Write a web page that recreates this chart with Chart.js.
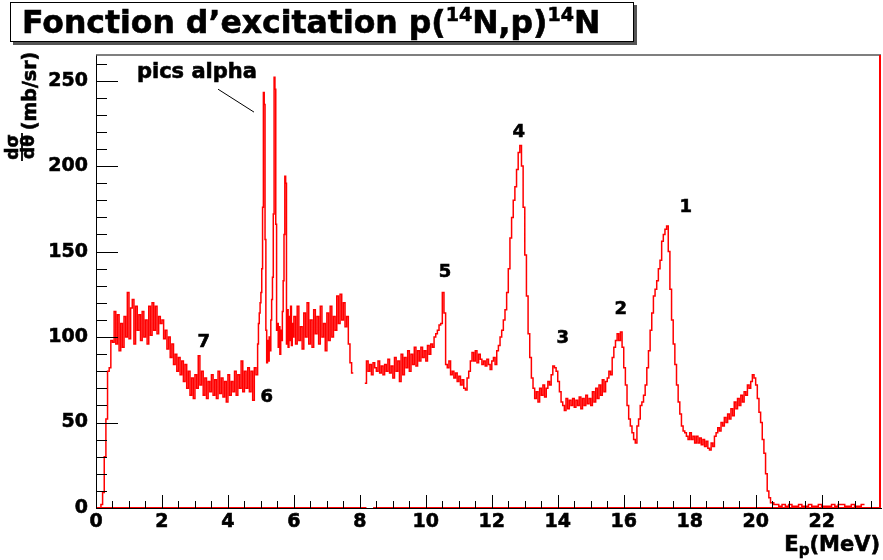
<!DOCTYPE html>
<html>
<head>
<meta charset="utf-8">
<script src="https://cdn.jsdelivr.net/npm/chart.js@4.4.1/dist/chart.umd.min.js"></script>
<style>
  html, body { margin: 0; padding: 0; background: #fff; }
  #wrap { position: relative; width: 883px; height: 560px; }
  #title {
    position: absolute; left: 10px; top: 2px; width: 611px; height: 38px; padding-left: 11px;
    border: 1px solid #000; box-shadow: 3px 3px 0 #555; background: #fff;
    font: bold 31.5px "DejaVu Sans"; text-align: left; line-height: 38px; white-space: nowrap;
    -webkit-text-stroke: 0.6px #000;
  }
  #title sup { font-size: 19px; vertical-align: baseline; position: relative; top: -12px; }
  canvas { position: absolute; left: 0; top: 0; }
</style>
</head>
<body>
<div id="wrap">
  <canvas id="excitation" width="883" height="560"></canvas>
  <div id="title">Fonction d’excitation p(<sup>14</sup>N,p)<sup>14</sup>N</div>
</div>
<script>
// cross section in mb/sr, bins given by start energy (MeV) and bin width
const lowStart = 0, lowStep = 0.05;
const lowValues = [
  0, 0, 0, 2, 9, 30, 52, 80, 82, 98,
  97, 115, 96, 113, 92, 108, 94, 112, 100, 126,
  99, 117, 122, 96, 118, 104, 113, 98, 115, 100,
  110, 96, 118, 101, 120, 104, 118, 102, 112, 108,
  110, 99, 104, 93, 100, 88, 96, 84, 90, 80,
  88, 78, 86, 74, 84, 70, 80, 66, 76, 64,
  78, 70, 89, 72, 80, 66, 76, 64, 74, 68,
  78, 66, 75, 64, 80, 67, 76, 65, 74, 62,
  78, 66, 74, 68, 80, 66, 78, 70, 86, 68,
  80, 70, 82, 68, 80, 63, 82, 78
];
const alphaStart = 4.9, alphaStep = 0.025;
const alphaValues = [
  96, 108, 114, 120, 126, 140, 176, 243, 236, 157,
  104, 85, 98, 86, 100, 92, 110, 122, 135, 172,
  252, 245, 166, 104, 108, 94, 106, 90, 104, 98,
  115, 133, 160, 194, 190, 96, 116, 94, 112, 98,
  118, 95, 108, 100
];
const midStart = 6.0, midStep = 0.05;
const midValues = [
  112, 96, 118, 98, 106, 93, 114, 100, 120, 96,
  110, 94, 116, 102, 112, 96, 118, 100, 108, 92,
  114, 98, 118, 100, 112, 104, 124, 108, 125, 110,
  120, 106, 112, 96, 85, 79
];
const highStart = 8.15, highStep = 0.05;
const highValues = [
  73, 86, 80, 84, 78, 85, 82, 80, 86, 79, 83, 78, 84, 80, 87, 79, 83, 76, 88, 80,
  86, 74, 90, 78, 88, 82, 92, 80, 90, 84, 94, 83, 92, 86, 94, 88, 92, 86, 95, 90,
  96, 94, 100, 102, 104, 107, 108, 126, 114, 84, 82, 86, 78, 80, 76, 79, 74, 77, 72, 75,
  70, 69, 76, 80, 86, 91, 86, 92, 85, 90, 87, 84, 86, 83, 87, 84, 81, 86, 88, 84,
  92, 95, 100, 104, 110, 116, 126, 140, 158, 170, 180, 188, 198, 208, 212, 200, 176, 148, 124, 102,
  88, 76, 70, 64, 68, 62, 70, 66, 72, 65, 70, 74, 72, 78, 83, 82, 80, 74, 68, 62,
  60, 57, 64, 58, 63, 60, 64, 59, 63, 60, 65, 58, 64, 60, 66, 61, 64, 60, 68, 62,
  70, 64, 72, 66, 75, 68, 74, 76, 80, 78, 88, 94, 98, 102, 98, 103, 94, 82, 72, 60,
  52, 48, 44, 40, 38, 48, 52, 60, 62, 66, 72, 82, 92, 104, 114, 124, 128, 133, 140, 145,
  156, 160, 163, 165, 150, 128, 110, 96, 84, 72, 62, 55, 48, 45, 44, 42, 40, 44, 40, 42,
  38, 42, 38, 41, 37, 40, 36, 39, 35, 34, 38, 36, 42, 44, 47, 45, 50, 48, 53, 50,
  55, 52, 58, 54, 62, 58, 64, 60, 66, 62, 68, 66, 72, 70, 74, 78, 76, 72, 64, 56,
  50, 40, 32, 20, 10, 6, 3, 3, 2
];
const tailStart = 20.6, tailStep = 0.1;
const tailValues = [2, 1, 2, 1, 2, 1, 1, 2, 1, 1, 2, 1, 1, 2, 1, 1, 1, 2, 1, 2, 2, 1, 1, 2, 1, 1, 2];

// zero line under the histogram
const baselineFrom = [0, 8.4];
const baselineTo = [8.2, 23.8];

const peakLabels = ["7", "6", "5", "4", "3", "2", "1"];
const peakLabelE = [3.27, 5.18, 10.58, 12.82, 14.15, 15.91, 17.88];
const peakLabelV = [97, 65, 138, 220, 99, 116, 176];

const xTicks = { min: 0, max: 23.8, step: 2, minor: 0.5 };
const yTicks = { min: 0, max: 265, step: 50, minor: 10 };

const points = [];
function addSegment(start, step, values) {
  values.forEach((v, i) => points.push({ x: start + i * step, y: v }));
  points.push({ x: start + values.length * step, y: values[values.length - 1] });
}
addSegment(lowStart, lowStep, lowValues);
addSegment(alphaStart, alphaStep, alphaValues);
addSegment(midStart, midStep, midValues);
points.push({ x: midStart + midValues.length * midStep, y: null });
addSegment(highStart, highStep, highValues);
addSegment(tailStart, tailStep, tailValues);

const baseline = [];
baselineFrom.forEach((from, i) => {
  baseline.push({ x: from, y: 0 }, { x: baselineTo[i], y: 0 });
  if (i < baselineFrom.length - 1) baseline.push({ x: baselineTo[i], y: null });
});

const boldFont = (size) => "bold " + size + "px 'DejaVu Sans'";

// fill + thin stroke so the text is as heavy as the original
function heavyText(ctx, text, x, y) {
  ctx.fillText(text, x, y);
  ctx.strokeText(text, x, y);
}

const decorations = {
  id: "decorations",
  afterDraw(chart) {
    const { ctx, chartArea: a, scales } = chart;
    const x = scales.x, y = scales.y;
    ctx.save();

    // frame: grey top, red right
    ctx.strokeStyle = "#555";
    ctx.lineWidth = 1.5;
    ctx.beginPath(); ctx.moveTo(a.left, a.top); ctx.lineTo(a.right, a.top); ctx.stroke();
    ctx.strokeStyle = "red";
    ctx.lineWidth = 2;
    ctx.beginPath(); ctx.moveTo(a.right - 1, a.top); ctx.lineTo(a.right - 1, a.bottom); ctx.stroke();

    // inward ticks
    ctx.strokeStyle = "#000";
    ctx.lineWidth = 1;
    for (let v = yTicks.min; v <= yTicks.max; v += yTicks.minor) {
      const len = v % yTicks.step === 0 ? 22 : 11;
      const py = Math.round(y.getPixelForValue(v)) + 0.5;
      ctx.beginPath(); ctx.moveTo(a.left, py); ctx.lineTo(a.left + len, py); ctx.stroke();
    }
    for (let e = xTicks.min; e <= xTicks.max; e += xTicks.minor) {
      const len = e % xTicks.step === 0 ? 13 : 7;
      const px = Math.round(x.getPixelForValue(e)) + 0.5;
      ctx.beginPath(); ctx.moveTo(px, a.bottom); ctx.lineTo(px, a.bottom - len); ctx.stroke();
    }

    // peak labels
    ctx.fillStyle = "#000";
    ctx.strokeStyle = "#000";
    ctx.lineWidth = 0.6;
    ctx.textAlign = "center";
    ctx.textBaseline = "middle";
    ctx.font = boldFont(18);
    peakLabels.forEach((t, i) => {
      heavyText(ctx, t, x.getPixelForValue(peakLabelE[i]), y.getPixelForValue(peakLabelV[i]));
    });

    // "pics alpha" with pointer
    ctx.font = boldFont(21);
    heavyText(ctx, "pics alpha", x.getPixelForValue(3.06), y.getPixelForValue(255));
    ctx.lineWidth = 1;
    ctx.beginPath();
    ctx.moveTo(x.getPixelForValue(3.7), y.getPixelForValue(245));
    ctx.lineTo(x.getPixelForValue(4.79), y.getPixelForValue(231.6));
    ctx.stroke();

    // y title: d sigma / d theta (mb/sr), rotated
    ctx.lineWidth = 0.6;
    ctx.save();
    ctx.translate(31, 91);
    ctx.rotate(-Math.PI / 2);
    ctx.font = boldFont(19);
    heavyText(ctx, "(mb/sr)", 0, 0);
    ctx.restore();
    ctx.save();
    ctx.translate(21, 147);
    ctx.rotate(-Math.PI / 2);
    ctx.font = boldFont(17);
    heavyText(ctx, "dσ", 0, -7);
    heavyText(ctx, "dθ", 0, 9);
    ctx.lineWidth = 1.8;
    ctx.beginPath(); ctx.moveTo(-14, 1); ctx.lineTo(14, 1); ctx.stroke();
    ctx.restore();

    // x title: E_p (MeV)
    ctx.lineWidth = 0.6;
    ctx.textBaseline = "alphabetic";
    ctx.textAlign = "left";
    ctx.font = boldFont(21);
    const unit = "(MeV)";
    const unitW = ctx.measureText(unit).width;
    heavyText(ctx, unit, 880 - unitW, 551);
    ctx.font = boldFont(15);
    const pW = ctx.measureText("p").width;
    heavyText(ctx, "p", 880 - unitW - pW, 555);
    ctx.font = boldFont(21);
    const eW = ctx.measureText("E").width;
    heavyText(ctx, "E", 880 - unitW - pW - eW, 551);

    ctx.restore();
  }
};

const tickFont = { family: "DejaVu Sans", weight: "bold", size: 19 };

new Chart(document.getElementById("excitation"), {
  type: "line",
  data: {
    datasets: [
      {
        label: "histogram",
        data: points,
        borderColor: "red",
        borderWidth: 1.5,
        stepped: true,
        pointRadius: 0,
        fill: false,
        spanGaps: false
      },
      {
        label: "zero",
        data: baseline,
        borderColor: "red",
        borderWidth: 2,
        pointRadius: 0,
        fill: false,
        spanGaps: false
      }
    ]
  },
  options: {
    responsive: false,
    animation: false,
    events: [],
    layout: { padding: { top: 55, right: 2, left: 0, bottom: 0 } },
    plugins: { legend: { display: false }, tooltip: { enabled: false } },
    scales: {
      x: {
        type: "linear",
        min: xTicks.min,
        max: xTicks.max,
        ticks: {
          stepSize: xTicks.step,
          includeBounds: false,
          maxRotation: 0,
          padding: 3,
          color: "#000",
          textStrokeColor: "#000",
          textStrokeWidth: 0.6,
          font: tickFont
        },
        grid: { display: false, drawTicks: false },
        border: { display: true, color: "#000", width: 1 },
        afterFit: (s) => { s.height = 52; }
      },
      y: {
        min: yTicks.min,
        max: yTicks.max,
        ticks: {
          stepSize: yTicks.step,
          includeBounds: false,
          padding: 8,
          color: "#000",
          textStrokeColor: "#000",
          textStrokeWidth: 0.6,
          font: tickFont
        },
        grid: { display: false, drawTicks: false },
        border: { display: true, color: "#000", width: 1 },
        afterFit: (s) => { s.width = 96; }
      }
    }
  },
  plugins: [decorations]
});
</script>
</body>
</html>
